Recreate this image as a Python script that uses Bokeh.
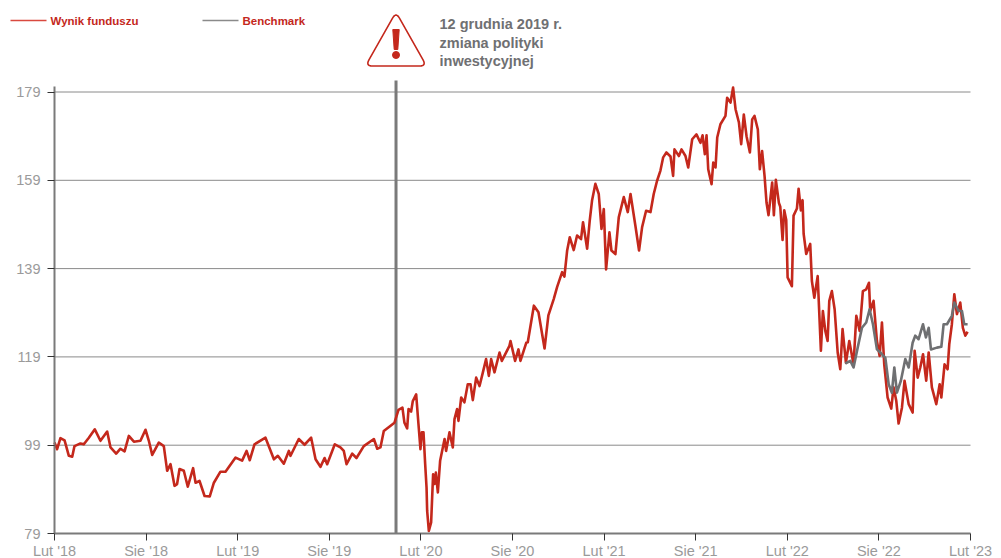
import numpy as np
from bokeh.plotting import figure
from bokeh.embed import file_html
from bokeh.resources import INLINE
from bokeh.models import FixedTicker
from bokeh.core.properties import value

tick_months = [0, 6, 12, 18, 24, 30, 36, 42, 48, 54, 60]
tick_labels = ["Lut '18", "Sie '18", "Lut '19", "Sie '19", "Lut '20", "Sie '20", "Lut '21", "Sie '21", "Lut '22", "Sie '22", "Lut '23"]
y_ticks = [79, 99, 119, 139, 159, 179]

fund_m = [0.00,0.17,0.39,0.66,0.94,1.16,1.31,1.70,1.92,2.25,2.64,3.01,3.45,3.67,4.04,4.32,4.59,4.87,5.20,5.63,5.96,6.18,6.40,6.83,7.16,7.38,7.60,7.86,8.03,8.19,8.47,8.73,9.08,9.24,9.50,9.83,10.17,10.44,10.87,11.20,11.86,12.29,12.58,12.79,13.10,13.82,14.37,14.63,15.02,15.35,15.46,16.00,16.38,16.81,17.10,17.42,17.69,17.86,18.36,18.73,18.95,19.13,19.50,19.78,20.26,20.92,21.14,21.35,21.57,
          22.27,22.53,22.79,22.92,23.10,23.19,23.36,23.47,23.69,23.84,23.97,24.06,24.17,24.28,24.37,24.41,24.52,24.67,24.80,24.89,24.98,25.11,25.26,25.55,25.65,25.87,26.09,26.20,26.37,26.46,26.64,26.85,27.07,27.25,27.40,27.62,27.84,28.06,28.27,28.45,28.60,28.82,29.15,29.30,29.80,29.87,30.17,30.39,30.52,30.90,31.00,31.40,31.70,32.10,32.35,
          32.70,32.92,33.25,33.40,33.58,33.75,34.01,34.23,34.49,34.62,34.89,35.06,35.21,35.43,35.65,35.83,35.98,36.13,36.35,36.48,36.74,36.96,37.29,37.55,37.73,38.05,38.29,38.49,38.75,39.04,39.25,39.47,39.69,39.87,40.08,
          40.35,40.52,40.61,40.90,41.07,41.33,41.51,41.77,42.05,42.31,42.45,42.60,42.71,42.82,43.04,43.15,43.30,43.41,43.62,43.95,44.06,44.28,44.45,44.61,44.83,44.98,45.15,45.33,45.55,45.70,45.85,46.07,46.20,46.35,46.51,46.64,46.77,47.01,47.12,47.25,47.45,
          47.54,47.69,47.80,47.93,48.02,48.30,48.41,48.63,48.74,48.89,49.00,49.07,49.24,49.50,
          49.61,49.77,49.99,50.20,50.33,50.49,50.64,50.75,50.92,51.10,51.30,51.47,51.62,51.84,52.06,52.34,52.52,52.74,52.95,53.17,53.35,53.43,53.65,53.87,54.05,54.20,54.35,54.57,54.81,54.96,55.14,55.29,55.51,55.68,55.95,56.21,56.34,56.54,56.71,56.89,57.10,57.26,57.47,57.76,57.98,58.09,58.30,58.50,58.61,58.78,58.94,59.11,59.33,59.50,59.66,59.81]
fund_v = [99.6,98.1,100.6,100.1,96.6,96.4,98.8,99.4,99.2,100.7,102.6,100.0,102.1,98.5,97.1,98.2,97.6,101.1,99.8,100.0,102.5,100.0,96.8,99.6,98.8,93.2,94.7,89.8,90.2,93.6,93.2,89.6,93.8,90.5,90.9,87.5,87.4,90.5,93.0,93.0,96.2,95.5,97.7,95.6,99.2,100.7,95.8,96.6,94.8,97.7,96.6,100.4,99.1,100.7,95.8,94.1,96.1,94.7,99.2,98.5,97.7,94.7,97.1,96.1,98.8,100.4,98.2,98.5,102.2,
          104.1,107.0,107.5,104.1,102.8,107.2,106.6,109.0,110.5,103.8,98.1,101.9,101.9,94.7,89.4,84.1,79.6,81.5,92.4,90.2,92.8,88.3,95.5,100.4,97.7,101.9,98.5,104.9,107.2,104.5,109.8,108.7,112.8,112.8,109.2,114.3,112.4,115.5,118.5,114.7,118.5,115.5,120.0,118.1,121.5,122.6,118.1,120.7,118.1,122.2,122.3,130.6,129.1,120.9,128.4,
          132.1,134.8,138.2,137.2,143.1,146.1,143.2,146.5,145.7,149.5,143.5,149.9,154.4,158.2,155.9,148.0,152.5,138.8,147.2,143.1,142.3,150.6,155.2,151.8,155.9,148.7,143.1,148.4,152.1,151.8,155.9,158.9,161.2,164.2,165.3,
          164.4,160.0,166.0,164.5,166.0,164.5,161.9,168.3,169.4,167.5,169.2,164.9,169.2,161.5,158.1,163.0,161.9,168.7,171.7,173.6,177.7,176.6,180.0,175.1,172.1,167.2,173.9,169.0,165.3,172.8,173.6,170.5,161.5,165.6,160.0,153.9,151.1,158.5,151.1,159.1,153.9,
          153.0,145.5,152.2,150.0,137.0,135.0,151.0,152.6,157.1,152.2,154.5,146.9,142.3,144.6,
          136.2,132.4,137.3,120.4,129.4,124.9,122.6,131.7,133.9,129.8,120.0,116.2,125.3,117.7,122.6,117.3,128.3,124.9,133.9,134.3,135.8,129.4,131.7,122.6,119.2,126.8,117.3,109.8,107.3,112.1,109.0,103.9,107.5,113.6,108.3,106.4,120.4,114.3,116.6,119.6,113.6,120.0,112.1,108.3,112.8,109.8,117.3,116.2,121.9,126.4,133.2,128.7,131.3,125.6,123.8,124.7]

bench_m = [51.80,52.13,52.34,52.61,52.89,53.17,53.39,53.61,53.87,54.09,54.42,54.64,54.85,55.01,55.18,55.44,55.73,55.95,56.21,56.38,56.60,56.89,57.08,57.26,57.41,57.80,58.09,58.24,58.46,58.78,58.94,59.22,59.44,59.59,59.81]
bench_v = [117.5,118.1,116.6,121.1,125.6,126.8,129.8,126.4,120.7,120.0,118.8,112.8,110.9,116.6,110.9,113.6,118.5,116.6,122.2,123.8,123.0,126.4,123.4,125.6,120.7,121.1,121.3,126.4,126.4,128.3,131.3,129.4,129.4,126.4,126.4]

policy_month = 22.37

RED = "#c4281c"
GREY = "#6f7072"
LEFT, BOTTOM = 54, 533
X = lambda px: (np.asarray(px, dtype=float) - LEFT) / 15.2667
Y = lambda py: 79 + (BOTTOM - np.asarray(py, dtype=float)) / 4.415

p = figure(width=985, height=550, frame_width=985, frame_height=550,
           x_range=(float(X(8)), float(X(993))), y_range=(float(Y(558)), float(Y(8))),
           output_backend="svg", toolbar_location=None,
           min_border_left=0, min_border_right=0, min_border_top=0, min_border_bottom=0,
           margin=(8, 0, 0, 8))
p.outline_line_color = None
p.background_fill_color = None
p.border_fill_color = None

p.xgrid.visible = False
p.ygrid.visible = False
grid_y = y_ticks[1:]
p.segment([0] * len(grid_y), grid_y, [60] * len(grid_y), grid_y, line_color="#8a8a8a", line_width=1)

p.xaxis.ticker = FixedTicker(ticks=tick_months)
p.xaxis.major_label_overrides = dict(zip(tick_months, tick_labels))
p.xaxis.bounds = (0, 60)
p.xaxis.fixed_location = 79
p.yaxis.ticker = FixedTicker(ticks=y_ticks)
p.yaxis.bounds = (79, float(Y(86)))
p.yaxis.fixed_location = 0
for ax in (p.xaxis[0], p.yaxis[0]):
    ax.axis_line_color = "#7a7a7a"
    ax.axis_line_width = 2
    ax.major_tick_line_color = "#333333"
    ax.major_tick_line_width = 1
    ax.major_tick_out = 7
    ax.major_tick_in = 0
    ax.minor_tick_line_color = None
    ax.major_label_text_color = "#9a9a9a"
    ax.major_label_text_font = "Liberation Sans"
    ax.major_label_text_font_size = "14.5px"
p.xaxis.major_label_standoff = 2
p.yaxis.major_label_standoff = 7

# policy change line
p.segment([policy_month], [79], [policy_month], [float(Y(80))], line_color="#7a7a7a", line_width=3)

# series
p.line(fund_m, fund_v, line_color=RED, line_width=2.6, line_join="round")
p.line(bench_m, bench_v, line_color=GREY, line_width=2.6, line_join="round")

# legend
p.line(X([10, 46]), Y([20, 20]), line_color="#d9493f", line_width=1.5)
p.line(X([202, 238]), Y([20, 20]), line_color="#8a8a8a", line_width=1.5)
for px, txt in ((50, "Wynik funduszu"), (242, "Benchmark")):
    p.text([float(X(px))], [float(Y(20.5))], text=[txt], text_color=RED,
           text_font=value("Liberation Sans"), text_font_style="bold",
           text_font_size="11.5px", text_baseline="middle", text_align="left")

# warning triangle with rounded corners
corners = [(395.5, 11.5), (426, 65.5), (365, 65.5)]
tx, ty = [], []
for i in range(3):
    a = np.array(corners[i - 1]); b = np.array(corners[i]); c = np.array(corners[(i + 1) % 3])
    p0 = b + (a - b) / np.linalg.norm(a - b) * 7
    p2 = b + (c - b) / np.linalg.norm(c - b) * 7
    for t in np.linspace(0, 1, 8):
        q = (1 - t) ** 2 * p0 + 2 * t * (1 - t) * b + t ** 2 * p2
        tx.append(q[0]); ty.append(q[1])
p.patch(X(tx), Y(ty), fill_color=None, line_color=RED, line_width=1.6, line_join="round")
p.patch(X([392.3, 398.7, 397.3, 393.7]), Y([29, 29, 49, 49]), fill_color=RED, line_color=RED, line_width=1)
p.scatter([float(X(395.5))], [float(Y(54.5))], size=7, marker="circle", fill_color=RED, line_color=RED)

for py, txt in ((23, "12 grudnia 2019 r."), (42, "zmiana polityki"), (60, "inwestycyjnej")):
    p.text([float(X(439))], [float(Y(py))], text=[txt], text_color=GREY,
           text_font=value("Liberation Sans"), text_font_style="bold",
           text_font_size="14.5px", text_baseline="middle", text_align="left")

open("out.html", "w").write(file_html(p, INLINE))
